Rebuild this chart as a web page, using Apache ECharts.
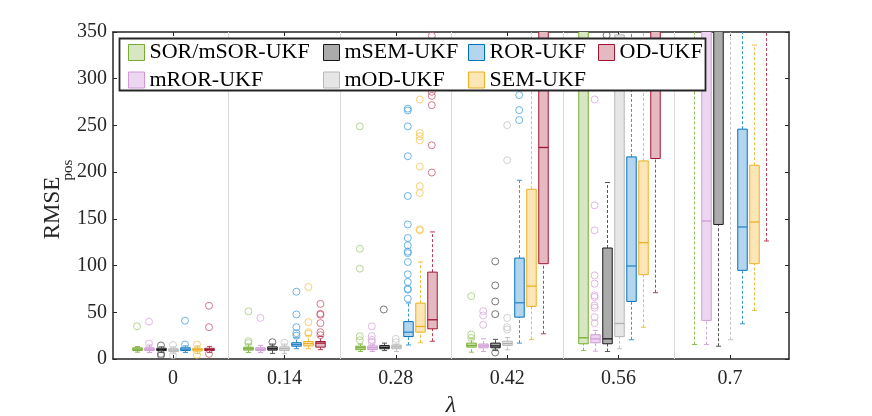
<!DOCTYPE html>
<html><head><meta charset="utf-8">
<script src="https://cdn.jsdelivr.net/npm/echarts@6/dist/echarts.min.js"></script>
<style>html,body{margin:0;padding:0;background:#fff}#c{width:872px;height:416px}</style>
</head><body><div id="c"></div>
<script>
// ---- data ----
const categories = ['0', '0.14', '0.28', '0.42', '0.56', '0.7'];
const seriesNames = ['SOR/mSOR-UKF', 'mROR-UKF', 'mSEM-UKF', 'mOD-UKF', 'ROR-UKF', 'SEM-UKF', 'OD-UKF'];
const yMin = 0, yMax = 350, yStep = 50;

// [lower whisker, Q1, median, Q3, upper whisker] for each λ
const sorBox  = [[7.3,9,10.5,12,13.4],[7,9.5,11,12.6,16],[8,10,12,13.7,16],[7.3,12.7,14.5,17,21.6],[9,16.3,22.7,420,900],[15.5,420,520,650,900]];
const mrorBox = [[7,9,10.5,12,15],[7,9,10.5,12,14.5],[8,10,12,14,16],[8,12,14,16,21.6],[8.4,17.4,21.5,26,30.5],[15.5,41.3,147.7,420,700]];
const msemBox = [[7,9,10,11.5,13],[6,9.5,11,13,16],[9,11,12.5,14.5,17],[9,12,14,17,21],[8,16.3,21.6,118.8,188.9],[13.7,144,420,550,800]];
const modBox  = [[5.5,8,9.5,11,13],[6,9,11,13,16],[8,11,13,15,16],[10,14.5,16.5,19,23],[11,24,38,347,700],[20.6,400,500,600,800]];
const rorBox  = [[7,9,10.5,12,14],[11,13.7,15.5,17.4,22.7],[15,24,28.7,40,60],[17,44.8,60.2,108,191.3],[20.6,61.6,99.5,216.3,500],[37.7,94.9,141.3,246,500]];
const semBox  = [[6,8.5,10,11.5,14],[11,14,16.5,18.7,25],[17.4,28.7,34.8,59.8,103.8],[21,56.3,78,181.7,400],[34,90.2,124.5,212,450],[52,102,146.6,207.4,336]];
const odBox   = [[7,9,10,11.5,13.5],[10,12.7,17,18.7,24],[19,32.3,42,93,136],[27,102,226.4,400,600],[71,214.6,300,420,700],[126.3,400,500,600,800]];

// outliers for each λ
const sorOut  = [[35],[51,19,17],[249,118,96.7,24.4,20],[67.3,26.3,22.5],[],[]];
const mrorOut = [[40,16.5],[44],[35,24.5,20.5,18],[51.3,46.6,36.6],[277.8,164.5,137.7,89.5,80.6,68,66.3,57.3,54.9,44.8,38.4],[]];
const msemOut = [[14.5,5.5,4],[18],[53],[104.5,78.8,61.6,48,7],[346.6],[]];
const modOut  = [[15,4],[17.5],[21.5,18],[250.3,212.8,44,34,31.6],[],[]];
const rorOut  = [[41,15.5],[72,47.7,34,27.7,25],[268,266,249,217,174.5,144,129.5,121.7,115,113.4,103.8,90.6,82.4,75.2,74.2,64.5],[282.5,266.4,255.7],[],[]];
const semOut  = [[15.5,4.5],[77,39.5,28.7,27],[277.8,242,238.5,234,206,185,177.7,138.8,137.7],[],[],[]];
const odOut   = [[57,34,5.5],[59,48.4,47.4,38.4,28.7,25.5],[346,286,281.7,271.7,228.8,199.6],[],[],[]];

const boxes = [sorBox, mrorBox, msemBox, modBox, rorBox, semBox, odBox];
const outs  = [sorOut, mrorOut, msemOut, modOut, rorOut, semOut, odOut];

// ---- styles ----
const styles = [
  {edge:'#77AC30', fill:'#d7e7c3', whisk:'#8fbc55', out:'#a3cc78', med:'#77AC30'},
  {edge:'#cf9ad6', fill:'#edd7f0', whisk:'#d5a6dc', out:'#d9a8df', med:'#cf9ad6'},
  {edge:'#1a1a1a', fill:'#ababab', whisk:'#555555', out:'#555555', med:'#1a1a1a'},
  {edge:'#b8b8b8', fill:'#e6e6e6', whisk:'#c4c4c4', out:'#c6c6c6', med:'#b0b0b0'},
  {edge:'#0072BD', fill:'#b3d5ee', whisk:'#3d97d6', out:'#4ba3de', med:'#2b86c8'},
  {edge:'#EDB120', fill:'#fce6b8', whisk:'#f1bd45', out:'#f3c456', med:'#EDB120'},
  {edge:'#A2142F', fill:'#e4b9c2', whisk:'#bb4058', out:'#c85a70', med:'#A2142F'}
];
const FONT = 'Liberation Serif';
const STEP = 0.1077;   // offset between boxes within a group (axis units)
const BOXW = 0.085;    // box width (axis units)
const legendCols = [[0, 1], [2, 3], [4, 5], [6]];
const legendLeft = [128, 323, 468, 598];

function makeRender(k) {
  const st = styles[k];
  return function (params, api) {
    const x = api.value(0) + (k - 3) * STEP;
    const lo = api.coord([x, api.value(1)]);
    const q1 = api.coord([x, api.value(2)]);
    const md = api.coord([x, api.value(3)]);
    const q3 = api.coord([x, api.value(4)]);
    const hi = api.coord([x, api.value(5)]);
    const w = api.size([BOXW, 0])[0];
    const cx = Math.round(lo[0]) + 0.5;
    const cw = w * 0.27;
    const dash = {stroke: st.whisk, lineWidth: 1, lineDash: [3, 2]};
    return {
      type: 'group',
      children: [
        {type: 'line', shape: {x1: cx, y1: lo[1], x2: cx, y2: q1[1]}, style: dash},
        {type: 'line', shape: {x1: cx, y1: q3[1], x2: cx, y2: hi[1]}, style: dash},
        {type: 'line', shape: {x1: cx - cw, y1: lo[1], x2: cx + cw, y2: lo[1]}, style: {stroke: st.whisk, lineWidth: 1}},
        {type: 'line', shape: {x1: cx - cw, y1: hi[1], x2: cx + cw, y2: hi[1]}, style: {stroke: st.whisk, lineWidth: 1}},
        {type: 'rect', shape: {x: cx - w / 2, y: q3[1], width: w, height: q1[1] - q3[1]}, style: {fill: st.fill, stroke: st.edge, lineWidth: 1}},
        {type: 'line', shape: {x1: cx - w / 2, y1: md[1], x2: cx + w / 2, y2: md[1]}, style: {stroke: st.med, lineWidth: 1.3}}
      ]
    };
  };
}

const series = [];
seriesNames.forEach((name, k) => {
  series.push({
    name: name,
    type: 'custom',
    clip: true,
    silent: true,
    itemStyle: {color: styles[k].fill, borderColor: styles[k].edge},
    renderItem: makeRender(k),
    encode: {x: 0, y: [1, 2, 3, 4, 5]},
    data: boxes[k].map((b, g) => [g].concat(b)),
    z: 3
  });
});
seriesNames.forEach((name, k) => {
  const pts = [];
  outs[k].forEach((arr, g) => arr.forEach(v => pts.push([g + (k - 3) * STEP, v])));
  const s = {
    name: name + ' outliers',
    type: 'scatter',
    silent: true,
    clip: true,
    symbol: 'circle',
    symbolSize: 7,
    itemStyle: {color: 'rgba(255,255,255,0)', borderColor: styles[k].out, borderWidth: 1},
    data: pts,
    z: 4
  };
  if (k === 0) {
    s.markLine = {
      silent: true, symbol: 'none', label: {show: false},
      lineStyle: {color: '#dadada', width: 1, type: 'solid'},
      data: categories.slice(1).map((_, i) => ({xAxis: i + 0.5})),
      z: 1
    };
  }
  series.push(s);
});

const tickVals = categories.map((_, i) => i);
const axisLineStyle = {color: '#262626', width: 1.5};

const option = {
  animation: false,
  backgroundColor: '#fff',
  grid: {left: 113, right: 83, top: 32, bottom: 57, containLabel: false},
  xAxis: [
    {
      type: 'value', min: -0.5386, max: 5.5296, position: 'bottom',
      axisLine: {show: true, onZero: false, lineStyle: axisLineStyle},
      axisTick: {show: true, inside: true, length: 4, customValues: tickVals, lineStyle: {color: '#262626'}},
      axisLabel: {show: true, customValues: tickVals, margin: 10, formatter: v => categories[Math.round(v)],
        fontFamily: FONT, fontSize: 20, color: '#262626'},
      splitLine: {show: false}
    },
    {
      type: 'value', min: -0.5386, max: 5.5296, position: 'top',
      axisLine: {show: true, onZero: false, lineStyle: axisLineStyle},
      axisTick: {show: true, inside: true, length: 4, customValues: tickVals, lineStyle: {color: '#262626'}},
      axisLabel: {show: false},
      splitLine: {show: false}
    }
  ],
  yAxis: [
    {
      type: 'value', min: yMin, max: yMax, interval: yStep, position: 'left',
      axisLine: {show: true, onZero: false, lineStyle: axisLineStyle},
      axisTick: {show: true, inside: true, length: 4, lineStyle: {color: '#262626'}},
      axisLabel: {margin: 6, fontFamily: FONT, fontSize: 20, color: '#262626'},
      splitLine: {show: false}
    },
    {
      type: 'value', min: yMin, max: yMax, interval: yStep, position: 'right',
      axisLine: {show: true, onZero: false, lineStyle: axisLineStyle},
      axisTick: {show: true, inside: true, length: 4, lineStyle: {color: '#262626'}},
      axisLabel: {show: false},
      splitLine: {show: false}
    }
  ],
  legend: legendCols.map((idx, i) => ({
    show: true, orient: 'vertical', left: legendLeft[i], top: 41.5, padding: 0,
    itemGap: 5.5, itemWidth: 16, itemHeight: 16, icon: 'rect', selectedMode: false, z: 110,
    textStyle: {fontFamily: FONT, fontSize: 22, color: '#000', lineHeight: 20},
    data: idx.map(k => ({name: seriesNames[k], itemStyle: {color: styles[k].fill, borderColor: styles[k].edge, borderWidth: 1}}))
  })),
  graphic: [
    {type: 'rect', z: 100, shape: {x: 119.5, y: 38.5, width: 586, height: 52},
      style: {fill: '#fff', stroke: '#262626', lineWidth: 1.8}},
    {type: 'text', z: 100, x: 53, y: 208, rotation: Math.PI / 2,
      style: {text: 'RMSE', fontFamily: FONT, fontSize: 23, fill: '#262626', align: 'center', verticalAlign: 'middle'}},
    {type: 'text', z: 100, x: 68, y: 170, rotation: Math.PI / 2,
      style: {text: 'pos', fontFamily: FONT, fontSize: 15, fill: '#262626', align: 'center', verticalAlign: 'middle'}},
    {type: 'text', z: 100, x: 451, y: 406,
      style: {text: 'λ', fontFamily: FONT, fontStyle: 'italic', fontSize: 24, fill: '#262626', align: 'center', verticalAlign: 'middle'}}
  ],
  series: series
};

const chart = echarts.init(document.getElementById('c'), null, {renderer: 'canvas'});
chart.setOption(option);
</script>
</body></html>
